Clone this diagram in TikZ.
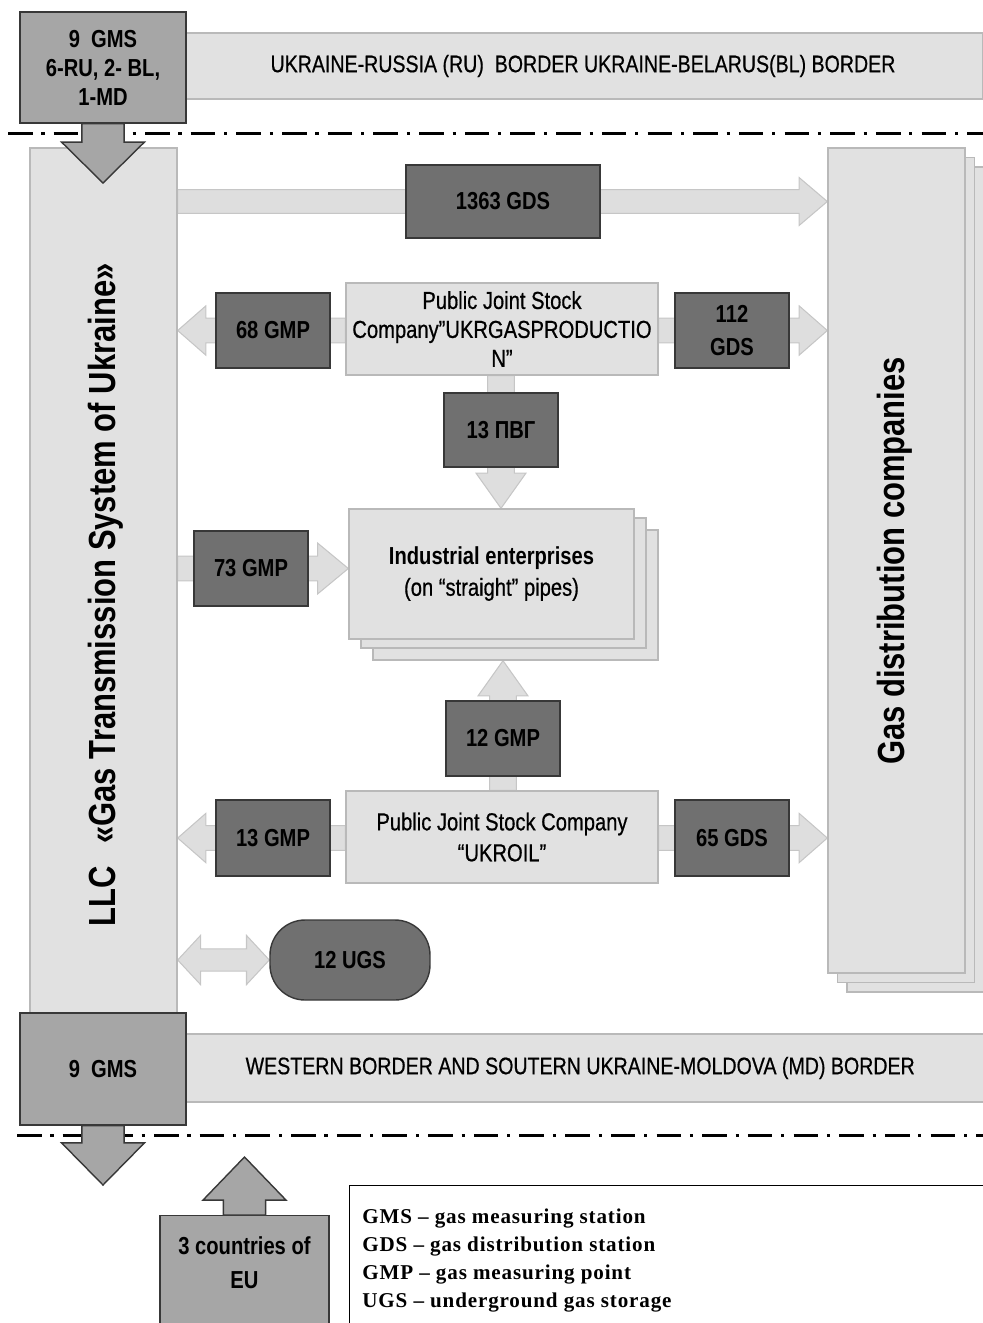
\documentclass[tikz,border=0pt]{standalone}
\usepackage{fontspec}
\setmainfont{Liberation Sans}
\newfontfamily\nsf[FakeStretch=0.82]{Liberation Sans}
\newfontfamily\nsfm[FakeStretch=0.82,FakeBold=0.6]{Liberation Sans}
\newfontfamily\legfont[LetterSpace=4]{Liberation Serif}
\usetikzlibrary{calc,backgrounds}
\definecolor{lfill}{HTML}{E1E1E1}
\definecolor{lborder}{HTML}{B9B9B9}
\definecolor{dfill}{HTML}{707070}
\definecolor{dborder}{HTML}{383838}
\definecolor{gfill}{HTML}{A6A6A6}
\definecolor{afill}{HTML}{DEDEDE}
\definecolor{aborder}{HTML}{C6C6C6}
\newcommand\fLab{\nsf\bfseries\fontsize{14}{16.5}\selectfont}
\newcommand\fBan{\nsfm\fontsize{13.6}{16}\selectfont}
\newcommand\fCo{\nsfm\fontsize{14}{16.5}\selectfont}
\newcommand\fBig{\nsf\bfseries\fontsize{21.5}{24}\selectfont}
% horizontal single arrow: style, from, to, shaft half, head half, head length
\newcommand\HArrow[6]{%
 \path[#1] let \p1=(#2),\p2=(#3),\n1={sign(\x2-\x1)} in
  (\x1,{\y1+#4}) -- ({\x2-(\n1)*#6},{\y1+#4}) -- ({\x2-(\n1)*#6},{\y1+#5}) -- (\x2,\y1)
  -- ({\x2-(\n1)*#6},{\y1-#5}) -- ({\x2-(\n1)*#6},{\y1-#4}) -- (\x1,{\y1-#4}) -- cycle;}
\newcommand\VArrow[6]{%
 \path[#1] let \p1=(#2),\p2=(#3),\n1={sign(\y2-\y1)} in
  ({\x1+#4},\y1) -- ({\x1+#4},{\y2-(\n1)*#6}) -- ({\x1+#5},{\y2-(\n1)*#6}) -- (\x1,\y2)
  -- ({\x1-#5},{\y2-(\n1)*#6}) -- ({\x1-#4},{\y2-(\n1)*#6}) -- ({\x1-#4},\y1) -- cycle;}
\newcommand\DHArrow[6]{%
 \path[#1] let \p1=(#2),\p2=(#3),\n1={sign(\x2-\x1)} in
  (\x1,\y1) -- ({\x1+(\n1)*#6},{\y1+#5}) -- ({\x1+(\n1)*#6},{\y1+#4}) -- ({\x2-(\n1)*#6},{\y1+#4})
  -- ({\x2-(\n1)*#6},{\y1+#5}) -- (\x2,\y1) -- ({\x2-(\n1)*#6},{\y1-#5}) -- ({\x2-(\n1)*#6},{\y1-#4})
  -- ({\x1+(\n1)*#6},{\y1-#4}) -- ({\x1+(\n1)*#6},{\y1-#5}) -- cycle;}
\tikzset{
 lbox/.style={draw=lborder, fill=lfill, line width=0.8pt, inner sep=0pt, align=center, font=\fCo},
 dbox/.style={draw=dborder, fill=dfill, line width=0.8pt, inner sep=0pt, align=center, font=\fLab,
   minimum width=2.28cm, minimum height=1.5cm},
 gbox/.style={draw=dborder, fill=gfill, line width=0.8pt, inner sep=0pt, align=center, font=\fLab},
 larrow/.style={draw=aborder, fill=afill, line width=0.6pt},
 garrow/.style={draw=dborder, fill=gfill, line width=0.8pt},
 borderline/.style={line width=1.7pt, dash pattern=on 14pt off 5pt on 1.8pt off 5.2pt},
 txt/.style={inner sep=0pt, align=center},
}
\begin{document}
\begin{tikzpicture}[x=0.02cm, y=-0.02cm]
\useasboundingbox (0,0) rectangle (983,1323);
\clip (0,0) rectangle (983,1323);
% top border
\node[lbox, minimum width=15.98cm, minimum height=1.32cm, font=\fBan] (banTop) at (583,66)
  {UKRAINE-RUSSIA (RU)\ \ BORDER UKRAINE-BELARUS(BL) BORDER};
\node[gbox, minimum width=3.32cm, minimum height=2.22cm] (gmsTop) at (103,67.5)
  {9\ \ GMS\\6-RU, 2- BL,\\1-MD};
% left and right columns
\node[lbox, minimum width=2.94cm, minimum height=17.34cm] (llc) at (103.5,581.5) {};
\node[txt, rotate=90, font=\fBig] (llcLabel) at (106,595)
  {LLC\hspace{13pt}«Gas Transmission System of Ukraine»};
\node[lbox, minimum width=2.74cm, minimum height=16.5cm] (gdcC) at (915.5,579.5) {};
\node[lbox, minimum width=2.74cm, minimum height=16.5cm] (gdcB) at (906,570) {};
\node[lbox, minimum width=2.74cm, minimum height=16.5cm] (gdc) at (896.5,560.5) {};
\node[txt, rotate=90, font=\fBig] (gdcLabel) at (895,561) {Gas distribution companies};
% middle
\node[dbox, minimum width=3.88cm, minimum height=1.46cm] (gds1363) at (503,201.5) {1363\ GDS};
\node[lbox, minimum width=6.24cm, minimum height=1.84cm] (ukrgas) at (502,329)
  {Public Joint Stock\\Company”UKRGASPRODUCTIO\\N”};
\node[dbox] (gmp68) at (273,330.5) {68\ GMP};
\node[dbox] (gds112) at (732,330.5) {112\\[2pt]GDS};
\node[dbox, minimum height=1.48cm] (pvg13) at (501,430) {13 ПВГ};
\node[lbox, minimum width=5.7cm, minimum height=2.6cm] (indC) at (515.5,595) {};
\node[lbox, minimum width=5.7cm, minimum height=2.6cm] (indB) at (503.5,583) {};
\node[lbox, minimum width=5.7cm, minimum height=2.6cm, font=\fCo] (ind) at (491.5,574)
  {{\nsf\bfseries Industrial enterprises}\\[1pt](on “straight” pipes)};
\node[dbox] (gmp73) at (251,568.5) {73\ GMP};
\node[dbox] (gmp12) at (503,738.5) {12 GMP};
\node[lbox, minimum width=6.24cm, minimum height=1.84cm, font=\nsfm\fontsize{14}{17.6}\selectfont] (ukroil) at (502,837)
  {Public Joint Stock Company\\“UKROIL”};
\node[dbox, minimum height=1.52cm] (gmp13) at (273,838) {13 GMP};
\node[dbox, minimum height=1.52cm] (gds65) at (732,838) {65 GDS};
\node[dbox, minimum width=3.2cm, minimum height=1.6cm, rounded corners=0.7cm] (ugs12) at (350,960) {12\ UGS};
% bottom border
\node[lbox, minimum width=15.98cm, minimum height=1.36cm, font=\fBan] (banBot) at (585.5,1068)
  {\hspace*{-6pt}WESTERN BORDER AND SOUTERN UKRAINE-MOLDOVA (MD) BORDER};
\node[gbox, minimum width=3.32cm, minimum height=2.24cm] (gmsBot) at (103,1069) {9\ \ GMS};
\node[gbox, minimum width=3.38cm, minimum height=2.4cm, anchor=north] (eu) at (244.5,1215) {};
\node[txt, font=\fLab, align=center] (euText) at (244.5,1263) {3 countries of\\[3pt]EU};
% legend
\node[draw=black, line width=0.8pt, fill=white, minimum width=12.9cm, minimum height=3.2cm, anchor=north west] (legend) at (349,1185) {};
\node[txt, align=left, anchor=north west, font=\legfont\bfseries\fontsize{12}{15.8}\selectfont] (legText) at (362,1209)
  {GMS – gas measuring station\\GDS – gas distribution station\\GMP – gas measuring point\\UGS – underground gas storage};
% coordinates for free arrow ends
\coordinate (topTip) at (103,183);
\coordinate (botTip) at (103,1185);
\coordinate (euTip) at (244.5,1157);
\coordinate (lineTopL) at (8,133);
\coordinate (lineTopR) at (990,133);
\coordinate (lineBotL) at (17,1135);
\coordinate (lineBotR) at (990,1135);
\begin{scope}[on background layer]
 \draw[borderline] (lineTopL) -- (lineTopR);
 \draw[borderline] (lineBotL) -- (lineBotR);
 \HArrow{larrow}{llc.east |- gds1363}{gdc.west |- gds1363}{6.8pt}{13.6pt}{16pt}
 \HArrow{larrow}{ukrgas.west |- gmp68}{llc.east |- gmp68}{7pt}{14pt}{16pt}
 \HArrow{larrow}{ukrgas.east |- gds112}{gdc.west |- gds112}{7pt}{14pt}{16pt}
 \VArrow{larrow}{pvg13 |- ukrgas.south}{pvg13 |- ind.north}{7.6pt}{14.2pt}{20pt}
 \HArrow{larrow}{llc.east |- gmp73}{ind.west |- gmp73}{7pt}{14.5pt}{17.5pt}
 \VArrow{larrow}{gmp12 |- ukroil.north}{gmp12 |- indC.south}{7.6pt}{14.2pt}{20pt}
 \HArrow{larrow}{ukroil.west |- gmp13}{llc.east |- gmp13}{7pt}{14pt}{16pt}
 \HArrow{larrow}{ukroil.east |- gds65}{gdc.west |- gds65}{7pt}{14pt}{16pt}
 \DHArrow{larrow}{llc.east |- ugs12}{ugs12.west}{6.3pt}{14pt}{13pt}
\end{scope}
\VArrow{garrow}{gmsTop.south}{topTip}{12pt}{23.6pt}{23.3pt}
\VArrow{garrow}{gmsBot.south}{botTip}{12pt}{23.6pt}{24pt}
\VArrow{garrow}{eu.north}{euTip}{12pt}{23.6pt}{24.5pt}
\end{tikzpicture}
\end{document}
